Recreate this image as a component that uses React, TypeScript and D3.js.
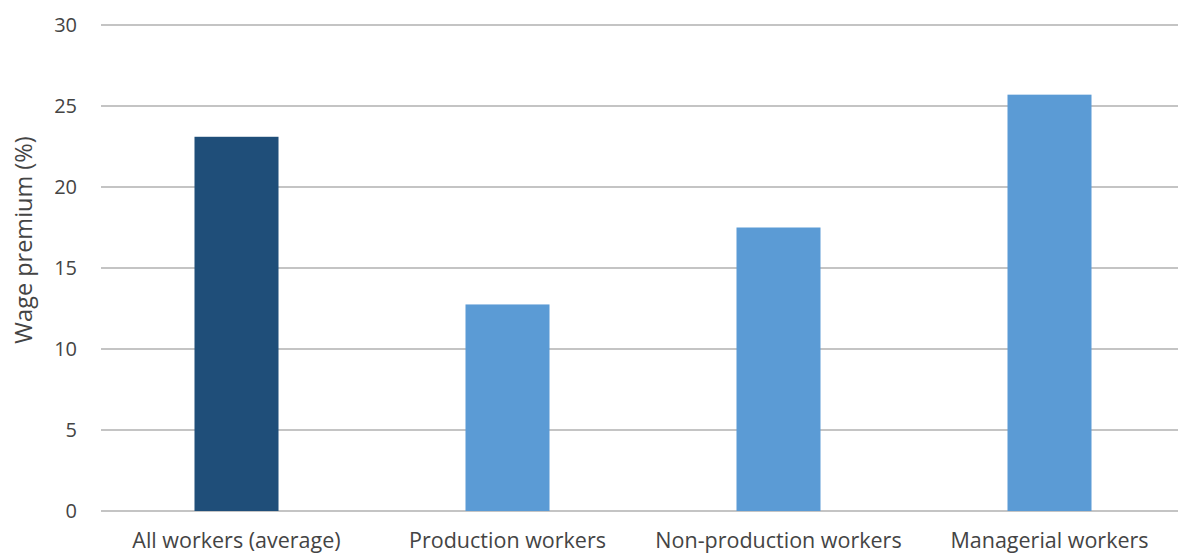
import { useEffect, useRef } from 'react';
import * as d3 from 'd3';

const categories = ['All workers (average)', 'Production workers', 'Non-production workers', 'Managerial workers'];
const premiums = [23.1, 12.75, 17.5, 25.7];
const barColors = ['#1f4e79', '#5b9bd5', '#5b9bd5', '#5b9bd5'];
const yTicks = [0, 5, 10, 15, 20, 25, 30];
const yTitle = 'Wage premium (%)';

export default function App() {
  const containerRef = useRef<HTMLDivElement>(null);

  useEffect(() => {
    if (!containerRef.current) return;
    d3.select(containerRef.current).selectAll('*').remove();

    const width = 1178;
    const height = 556;
    const font = '"Open Sans", sans-serif';
    const textColor = '#444444';

    const svg = d3
      .select(containerRef.current)
      .append('svg')
      .attr('width', width)
      .attr('height', height)
      .style('position', 'absolute')
      .style('left', '0px')
      .style('top', '0px')
      .style('background', '#fff');

    const x = d3
      .scaleBand<string>()
      .domain(categories)
      .range([101, 1185])
      .paddingInner(0.69)
      .paddingOuter(0.345);

    const y = d3.scaleLinear().domain([0, 30]).range([511, 25]);

    // gridlines
    svg
      .append('g')
      .selectAll('line')
      .data(yTicks)
      .join('line')
      .attr('x1', 101)
      .attr('x2', 1185)
      .attr('y1', (d) => y(d))
      .attr('y2', (d) => y(d))
      .attr('stroke', '#c4c4c4')
      .attr('stroke-width', 2);

    // tick labels
    svg
      .append('g')
      .selectAll('text')
      .data(yTicks)
      .join('text')
      .attr('x', 77)
      .attr('y', (d) => y(d))
      .attr('dy', '0.35em')
      .attr('text-anchor', 'end')
      .attr('font-family', font)
      .attr('font-size', 20)
      .attr('fill', textColor)
      .text((d) => d);

    // bars
    svg
      .append('g')
      .selectAll('rect')
      .data(premiums)
      .join('rect')
      .attr('x', (_, i) => x(categories[i])!)
      .attr('width', x.bandwidth())
      .attr('y', (d) => y(d))
      .attr('height', (d) => y(0) - y(d))
      .attr('fill', (_, i) => barColors[i]);

    // category labels
    svg
      .append('g')
      .selectAll('text')
      .data(categories)
      .join('text')
      .attr('x', (d) => x(d)! + x.bandwidth() / 2)
      .attr('y', 548)
      .attr('text-anchor', 'middle')
      .attr('font-family', font)
      .attr('font-size', 21.5)
      .attr('fill', textColor)
      .text((d) => d);

    // y axis title
    svg
      .append('text')
      .attr('transform', `translate(32, 240) rotate(-90)`)
      .attr('text-anchor', 'middle')
      .attr('font-family', font)
      .attr('font-size', 23.5)
      .attr('fill', textColor)
      .text(yTitle);
  }, []);

  return <div ref={containerRef} style={{ width: 1178, height: 556 }}></div>;
}
